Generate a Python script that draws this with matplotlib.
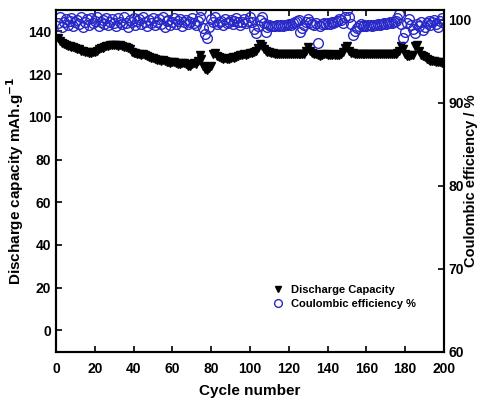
import matplotlib.pyplot as plt
import numpy as np

plt.rcParams['font.family'] = ['Liberation Sans', 'DejaVu Sans']
plt.rcParams['font.weight'] = 'bold'

ciclos = np.arange(1, 201)

capacidad = [
    137, 135.5, 134.5, 134, 133.5, 133, 133, 132.5, 132.5, 132,
    131.5, 131.5, 131, 131, 130.5, 130.5, 130, 130, 130.5, 130.5,
    131, 131.5, 132, 132, 132.5, 133, 133, 133.5, 133.5, 133.5,
    133.5, 133, 133.5, 133, 132.5, 132.5, 132, 131.5, 130.5, 130,
    130, 129.5, 129.5, 129, 129.5, 129, 128.5, 128, 127.5, 127.5,
    127, 126.5, 126.5, 126, 126.5, 126, 125.5, 125.5, 125, 125.5,
    125.5, 125, 124.5, 124.5, 125, 125, 124.5, 124, 124, 124.5,
    125, 124.5, 126, 129, 127, 124, 122.5, 122, 123, 124,
    129.5, 130, 128.5, 128, 127.5, 127, 127.5, 127, 127, 127.5,
    128, 127.5, 128, 128.5, 129, 129, 129.5, 129, 129.5, 130,
    130, 130.5, 131, 132, 134, 133, 131.5, 131, 130.5, 130.5,
    130, 130, 129.5, 129.5, 129.5, 129.5, 129.5, 129.5, 129.5, 129.5,
    129.5, 129.5, 129.5, 129.5, 129.5, 129.5, 129.5, 129.5, 131, 132.5,
    131, 130, 129.5, 129.5, 129, 128.5, 129, 129.5, 129.5, 129,
    129, 129, 129.5, 129, 129, 129, 129.5, 130.5, 132, 133,
    131, 130, 130, 129.5, 129.5, 129.5, 129.5, 129.5, 129.5, 129.5,
    129.5, 129.5, 129.5, 129.5, 129.5, 129.5, 129.5, 129.5, 129.5, 129.5,
    129.5, 129.5, 129.5, 129.5, 129.5, 130, 131, 133, 131.5, 129.5,
    128.5, 128.5, 129, 129, 133, 133.5, 131, 129, 128.5, 128,
    127, 126.5, 126, 126, 126, 125.5, 125.5, 125.5, 125, 124.5,
]

eficiencia = [
    99.6, 100.3, 99.2, 99.8, 100.1, 99.4, 99.9, 100.2, 99.3, 99.7,
    100.0, 99.5, 100.3, 99.2, 99.8, 100.1, 99.4, 100.2, 99.6, 99.9,
    100.3, 99.3, 99.7, 100.0, 99.5, 100.2, 99.4, 99.8, 100.1, 99.6,
    99.3, 100.2, 99.8, 99.5, 100.3, 99.6, 99.2, 100.0, 99.7, 100.2,
    99.4, 99.9, 100.1, 99.5, 100.3, 99.7, 99.3, 100.0, 99.6, 100.2,
    99.4, 99.8, 100.1, 99.5, 100.3, 99.2, 99.9, 100.0, 99.4, 99.8,
    100.2, 99.5, 99.9, 100.1, 99.3, 99.7, 100.0, 99.5, 99.8, 100.2,
    99.6, 99.4, 99.9, 100.4, 101.2, 99.0, 98.3, 97.8, 99.2, 100.1,
    99.8, 100.3, 99.5, 99.7, 99.9, 99.4, 100.1, 99.6, 99.8, 100.0,
    99.5, 99.9, 100.2, 99.7, 99.4, 99.8, 100.1, 99.6, 99.9, 100.3,
    99.7, 98.9, 98.4, 99.3, 100.0, 100.4, 99.6, 98.6, 99.2, 99.4,
    99.3, 99.3, 99.3, 99.4, 99.3, 99.4, 99.3, 99.4, 99.4, 99.5,
    99.4, 99.6, 99.7, 99.9, 100.0, 98.6, 99.0, 99.4, 99.8, 100.1,
    99.7, 99.5, 99.4, 99.6, 97.2, 99.3, 99.5, 99.6, 99.5, 99.6,
    99.5, 99.7, 99.6, 99.8, 99.9, 100.1, 100.0, 99.6, 100.4, 101.2,
    100.3, 99.5, 98.2, 98.7, 99.0, 99.3, 99.5, 99.3, 99.4, 99.3,
    99.4, 99.4, 99.3, 99.4, 99.4, 99.5, 99.4, 99.5, 99.6, 99.5,
    99.6, 99.7, 99.6, 99.8, 99.9, 100.2, 100.7, 99.5, 97.8, 98.5,
    99.6, 100.1, 99.4, 98.9, 98.4, 99.5, 99.3, 99.8, 98.8, 99.2,
    99.6, 99.9, 99.4, 99.8, 100.0, 99.5, 99.2, 99.9, 100.2, 99.6,
]

fig = plt.figure(figsize=(4.78, 3.98), dpi=100)
ax = fig.add_axes([0.117, 0.116, 0.812, 0.859])
ax2 = ax.twinx()

h1, = ax.plot(ciclos, capacidad, linestyle='none', marker='v', color='black',
              markersize=6, label='Discharge Capacity')
h2, = ax2.plot(ciclos, eficiencia, linestyle='none', marker='o', mfc='none',
               mec='#2828c8', markersize=7, mew=1.0, label='Coulombic efficiency %')

ax.set_xlim(0, 200)
ax.set_ylim(-10, 150)
ax2.set_ylim(60, 101.2)
ax.set_xticks(np.arange(0, 201, 20))
ax.set_yticks(np.arange(0, 141, 20))
ax2.set_yticks([60, 70, 80, 90, 100])

ax.tick_params(direction='in', top=True, labelsize=10, width=1.2, length=4)
ax.tick_params(axis='x', pad=7)
ax2.tick_params(direction='in', labelsize=10, width=1.2, length=4, pad=3)
for a in (ax, ax2):
    for s in a.spines.values():
        s.set_linewidth(1.5)

ax.set_xlabel('Cycle number', fontsize=11, fontweight='bold', labelpad=6)
ax.set_ylabel('Discharge capacity mAh.g$^{\\mathbf{-1}}$', fontsize=11,
              fontweight='bold')
ax.yaxis.set_label_coords(-0.078, 0.5)
ax2.set_ylabel('Coulombic efficiency / %', fontsize=10.5, fontweight='bold')
ax2.yaxis.set_label_coords(1.052, 0.5)

ax.legend([h1, h2], ['Discharge Capacity', 'Coulombic efficiency %'],
          loc='upper left', bbox_to_anchor=(0.53, 0.225), frameon=False,
          fontsize=8, handletextpad=0.5, labelspacing=0.35, markerscale=0.8,
          handlelength=1.2)

fig.savefig('out.png', dpi=100)
